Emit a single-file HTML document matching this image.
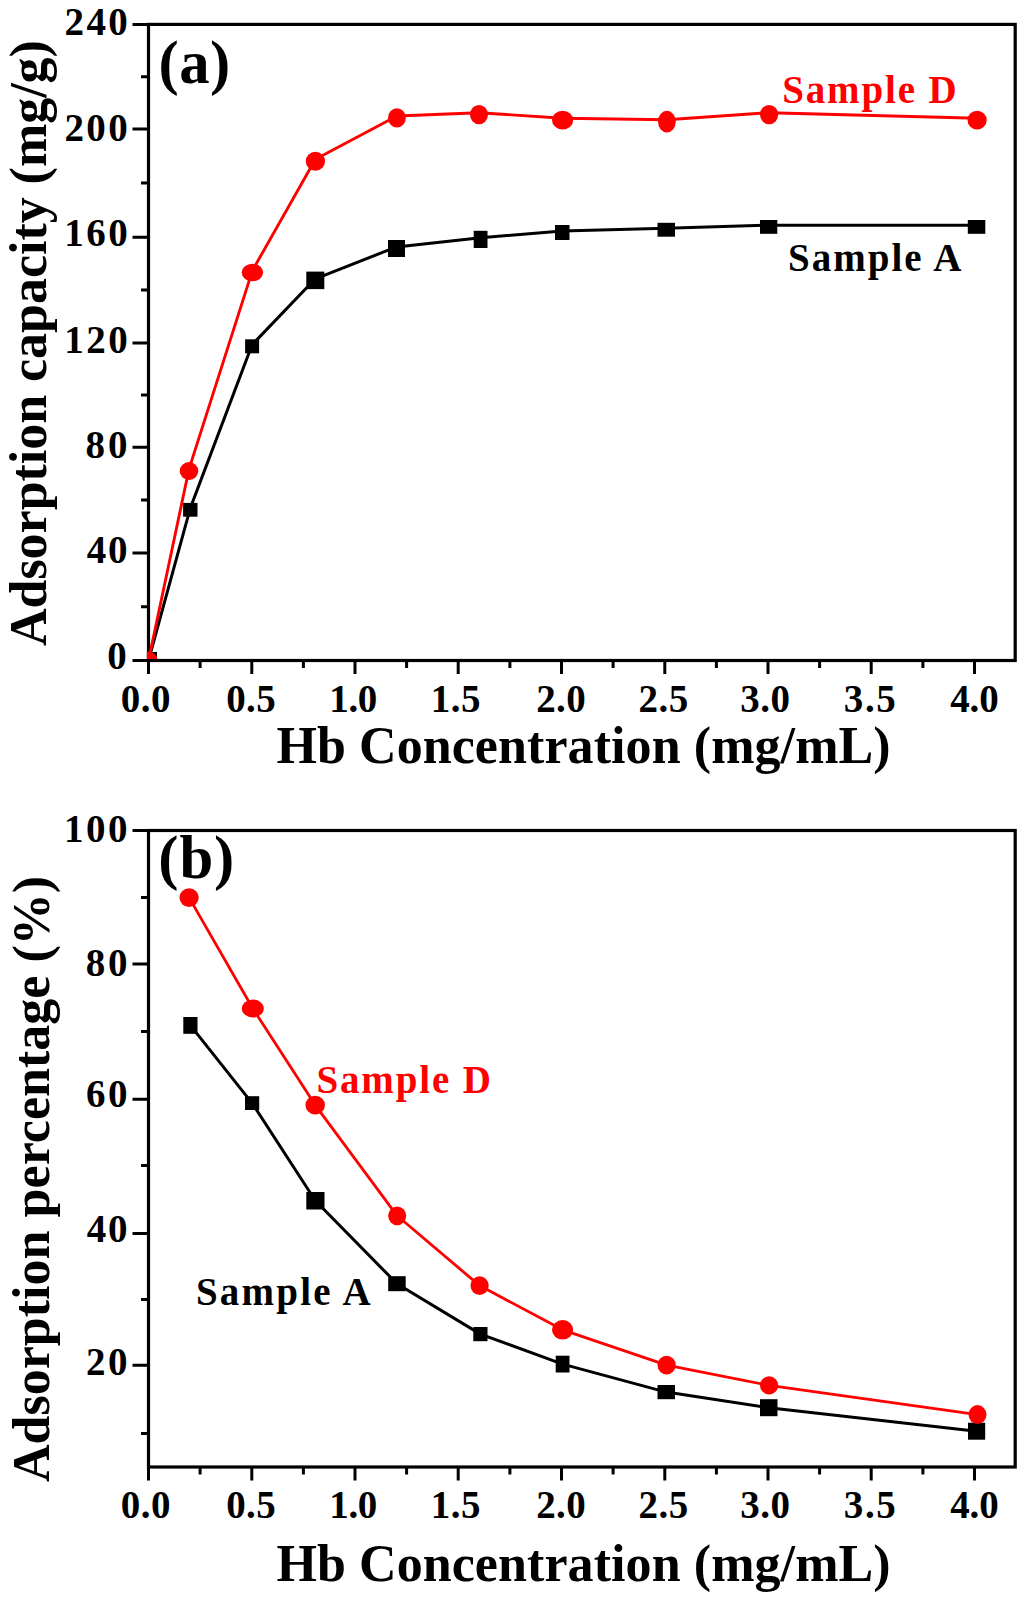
<!DOCTYPE html>
<html><head><meta charset="utf-8"><title>Adsorption curves</title>
<style>html,body{margin:0;padding:0;background:#fff}svg{display:block}</style></head>
<body>
<svg width="1024" height="1597" viewBox="0 0 1024 1597" font-family="'Liberation Serif', 'Times New Roman', serif" font-weight="bold">
<rect width="1024" height="1597" fill="#fff"/>
<defs><clipPath id="ca"><rect x="146.9" y="24.4" width="868.3" height="634.6"/></clipPath><clipPath id="cb"><rect x="146.9" y="830.5" width="868.3" height="635.0"/></clipPath></defs>
<rect x="148.5" y="24.4" width="866.7" height="636.1" fill="none" stroke="#000" stroke-width="3.2"/>
<path d="M132.5,24.4H148.5M132.5,128.9H148.5M132.5,237.3H148.5M132.5,343.0H148.5M132.5,447.3H148.5M132.5,553.0H148.5M132.5,660.5H148.5M141.0,606.8H148.5M141.0,500.1H148.5M141.0,395.1H148.5M141.0,290.1H148.5M141.0,183.1H148.5M141.0,76.7H148.5M148.5,660.5V674.0M200.1,660.5V668.0M251.8,660.5V674.0M303.4,660.5V668.0M355.0,660.5V674.0M406.6,660.5V668.0M458.2,660.5V674.0M509.9,660.5V668.0M561.5,660.5V674.0M613.1,660.5V668.0M664.8,660.5V674.0M716.4,660.5V668.0M768.0,660.5V674.0M819.6,660.5V668.0M871.2,660.5V674.0M922.9,660.5V668.0M974.5,660.5V674.0" stroke="#000" stroke-width="3.0" fill="none"/>
<g clip-path="url(#ca)">
<path d="M148.5,660.5L190.3,508.1L252.1,344.7L315.3,278.8L396.5,246.9L480.6,237.8L562.2,230.9L666.2,228.2L768.6,225.2L976.5,225.2" fill="none" stroke="#000" stroke-width="3.0" stroke-linejoin="round"/>
<rect x="140.0" y="652.0" width="17.0" height="17.0" fill="#000"/>
<rect x="183.1" y="502.9" width="14.4" height="13.8" fill="#000"/>
<rect x="245.1" y="339.3" width="14.0" height="14.0" fill="#000"/>
<rect x="306.3" y="271.6" width="18.0" height="17.5" fill="#000"/>
<rect x="388.0" y="240.0" width="17.0" height="17.0" fill="#000"/>
<rect x="473.7" y="230.8" width="13.8" height="17.2" fill="#000"/>
<rect x="555.0" y="225.0" width="14.5" height="15.0" fill="#000"/>
<rect x="657.5" y="222.8" width="17.5" height="13.9" fill="#000"/>
<rect x="760.0" y="220.0" width="17.3" height="13.8" fill="#000"/>
<rect x="967.8" y="220.0" width="17.5" height="13.8" fill="#000"/>
<path d="M148.5,660.5L189.0,469.1L252.4,270.6L315.4,159.3L396.9,116.0L479.0,112.7L562.6,118.2L666.9,119.7L769.1,112.7L977.1,118.2" fill="none" stroke="#ff0000" stroke-width="2.9" stroke-linejoin="round"/>
<ellipse cx="148.5" cy="660.5" rx="9.00" ry="9.00" fill="#ff0000"/>
<ellipse cx="189.0" cy="471.0" rx="9.30" ry="9.00" fill="#ff0000"/>
<ellipse cx="252.4" cy="272.5" rx="10.70" ry="8.80" fill="#ff0000"/>
<ellipse cx="315.4" cy="161.2" rx="9.62" ry="9.50" fill="#ff0000"/>
<ellipse cx="396.9" cy="117.9" rx="8.88" ry="9.62" fill="#ff0000"/>
<ellipse cx="479.0" cy="114.6" rx="9.00" ry="9.62" fill="#ff0000"/>
<ellipse cx="562.6" cy="120.1" rx="10.62" ry="9.38" fill="#ff0000"/>
<ellipse cx="666.9" cy="121.6" rx="8.88" ry="10.88" fill="#ff0000"/>
<ellipse cx="769.1" cy="114.6" rx="9.12" ry="9.62" fill="#ff0000"/>
<ellipse cx="977.1" cy="120.1" rx="9.62" ry="9.38" fill="#ff0000"/>
</g>
<text x="64.59" y="34.90" font-size="39" letter-spacing="2.314">240</text>
<text x="64.49" y="140.60" font-size="39" letter-spacing="2.364">200</text>
<text x="64.29" y="245.50" font-size="39" letter-spacing="2.463">160</text>
<text x="64.29" y="353.20" font-size="39" letter-spacing="2.463">120</text>
<text x="85.62" y="458.10" font-size="39" letter-spacing="2.937">80</text>
<text x="86.75" y="563.40" font-size="39" letter-spacing="1.8">40</text>
<text x="107.18" y="669.00" font-size="39">0</text>
<text x="120.76" y="712.30" font-size="39" letter-spacing="0.446">0.0</text>
<text x="226.26" y="712.30" font-size="39" letter-spacing="0.336">0.5</text>
<text x="329.29" y="712.30" font-size="39" letter-spacing="-0.395">1.0</text>
<text x="430.79" y="712.30" font-size="39" letter-spacing="0.445">1.5</text>
<text x="536.29" y="712.30" font-size="39" letter-spacing="0.306">2.0</text>
<text x="638.49" y="712.30" font-size="39" letter-spacing="0.521">2.5</text>
<text x="740.36" y="712.30" font-size="39" letter-spacing="0.47">3.0</text>
<text x="843.86" y="712.30" font-size="39" letter-spacing="1.535">3.5</text>
<text x="950.25" y="712.30" font-size="39" letter-spacing="-0.128">4.0</text>
<text x="276.40" y="762.70" font-size="52" letter-spacing="0.08">Hb Concentration (mg/mL)</text>
<text transform="translate(45.80,645.99) rotate(-90)" font-size="52" letter-spacing="-0.032">Adsorption capacity (mg/g)</text>
<text x="158.62" y="82.60" font-size="60.7" letter-spacing="0.457">(a)</text>
<text x="782.13" y="102.50" font-size="39" letter-spacing="1.876" fill="#ff0000">Sample D</text>
<text x="788.03" y="271.10" font-size="39" letter-spacing="2.003">Sample A</text>
<g clip-path="url(#cb)">
<path d="M190.4,1025.4L252.1,1103.1L315.4,1200.8L397.0,1283.8L480.4,1334.1L562.6,1364.1L666.2,1392.1L768.8,1407.8L976.6,1431.2" fill="none" stroke="#000" stroke-width="3.0" stroke-linejoin="round"/>
<rect x="183.3" y="1017.0" width="14.2" height="16.8" fill="#000"/>
<rect x="245.0" y="1096.2" width="14.2" height="13.8" fill="#000"/>
<rect x="306.3" y="1192.0" width="18.2" height="17.5" fill="#000"/>
<rect x="388.2" y="1276.2" width="17.5" height="15.0" fill="#000"/>
<rect x="473.3" y="1327.0" width="14.2" height="14.2" fill="#000"/>
<rect x="555.7" y="1355.7" width="13.8" height="16.8" fill="#000"/>
<rect x="657.5" y="1385.0" width="17.5" height="14.2" fill="#000"/>
<rect x="760.0" y="1399.2" width="17.5" height="17.0" fill="#000"/>
<rect x="968.0" y="1422.7" width="17.2" height="17.0" fill="#000"/>
<path d="M189.1,897.6L252.8,1008.5L315.2,1105.1L397.2,1215.8L479.6,1285.6L562.6,1329.8L666.6,1365.1L769.1,1385.4L977.5,1414.6" fill="none" stroke="#ff0000" stroke-width="2.8" stroke-linejoin="round"/>
<ellipse cx="189.1" cy="897.6" rx="9.62" ry="9.38" fill="#ff0000"/>
<ellipse cx="252.8" cy="1008.5" rx="11.00" ry="9.00" fill="#ff0000"/>
<ellipse cx="315.2" cy="1105.1" rx="9.75" ry="9.38" fill="#ff0000"/>
<ellipse cx="397.2" cy="1215.8" rx="9.05" ry="9.38" fill="#ff0000"/>
<ellipse cx="479.6" cy="1285.6" rx="9.12" ry="9.38" fill="#ff0000"/>
<ellipse cx="562.6" cy="1329.8" rx="10.62" ry="9.75" fill="#ff0000"/>
<ellipse cx="666.6" cy="1365.1" rx="9.12" ry="9.38" fill="#ff0000"/>
<ellipse cx="769.1" cy="1385.4" rx="9.12" ry="9.12" fill="#ff0000"/>
<ellipse cx="977.5" cy="1414.6" rx="9.00" ry="9.50" fill="#ff0000"/>
</g>
<rect x="148.5" y="830.5" width="866.7" height="636.5" fill="none" stroke="#000" stroke-width="3.2"/>
<path d="M132.5,830.5H148.5M132.5,964.1H148.5M132.5,1099.2H148.5M132.5,1233.4H148.5M132.5,1365.3H148.5M141.0,897.5H148.5M141.0,1031.5H148.5M141.0,1165.5H148.5M141.0,1299.5H148.5M141.0,1433.5H148.5M148.5,1467.0V1480.5M200.1,1467.0V1474.5M251.8,1467.0V1480.5M303.4,1467.0V1474.5M355.0,1467.0V1480.5M406.6,1467.0V1474.5M458.2,1467.0V1480.5M509.9,1467.0V1474.5M561.5,1467.0V1480.5M613.1,1467.0V1474.5M664.8,1467.0V1480.5M716.4,1467.0V1474.5M768.0,1467.0V1480.5M819.6,1467.0V1474.5M871.2,1467.0V1480.5M922.9,1467.0V1474.5M974.5,1467.0V1480.5" stroke="#000" stroke-width="3.0" fill="none"/>
<text x="63.99" y="841.60" font-size="39" letter-spacing="2.563">100</text>
<text x="85.72" y="975.95" font-size="39" letter-spacing="2.737">80</text>
<text x="85.94" y="1106.70" font-size="39" letter-spacing="2.517">60</text>
<text x="86.75" y="1241.60" font-size="39" letter-spacing="1.7">40</text>
<text x="86.09" y="1374.60" font-size="39" letter-spacing="2.368">20</text>
<text x="120.76" y="1518.30" font-size="39" letter-spacing="0.446">0.0</text>
<text x="226.26" y="1518.30" font-size="39" letter-spacing="0.336">0.5</text>
<text x="329.29" y="1518.30" font-size="39" letter-spacing="-0.395">1.0</text>
<text x="430.79" y="1518.30" font-size="39" letter-spacing="0.445">1.5</text>
<text x="536.29" y="1518.30" font-size="39" letter-spacing="0.306">2.0</text>
<text x="638.49" y="1518.30" font-size="39" letter-spacing="0.521">2.5</text>
<text x="740.36" y="1518.30" font-size="39" letter-spacing="0.47">3.0</text>
<text x="843.86" y="1518.30" font-size="39" letter-spacing="1.535">3.5</text>
<text x="950.25" y="1518.30" font-size="39" letter-spacing="-0.128">4.0</text>
<text x="276.40" y="1581.00" font-size="52" letter-spacing="0.08">Hb Concentration (mg/mL)</text>
<text transform="translate(48.80,1482.09) rotate(-90)" font-size="52" letter-spacing="0.025">Adsorption percentage (%)</text>
<text x="158.37" y="877.50" font-size="60.7" letter-spacing="0.814">(b)</text>
<text x="316.38" y="1092.50" font-size="39" letter-spacing="1.876" fill="#ff0000">Sample D</text>
<text x="195.93" y="1305.40" font-size="39" letter-spacing="2.217">Sample A</text>
</svg>
</body></html>
